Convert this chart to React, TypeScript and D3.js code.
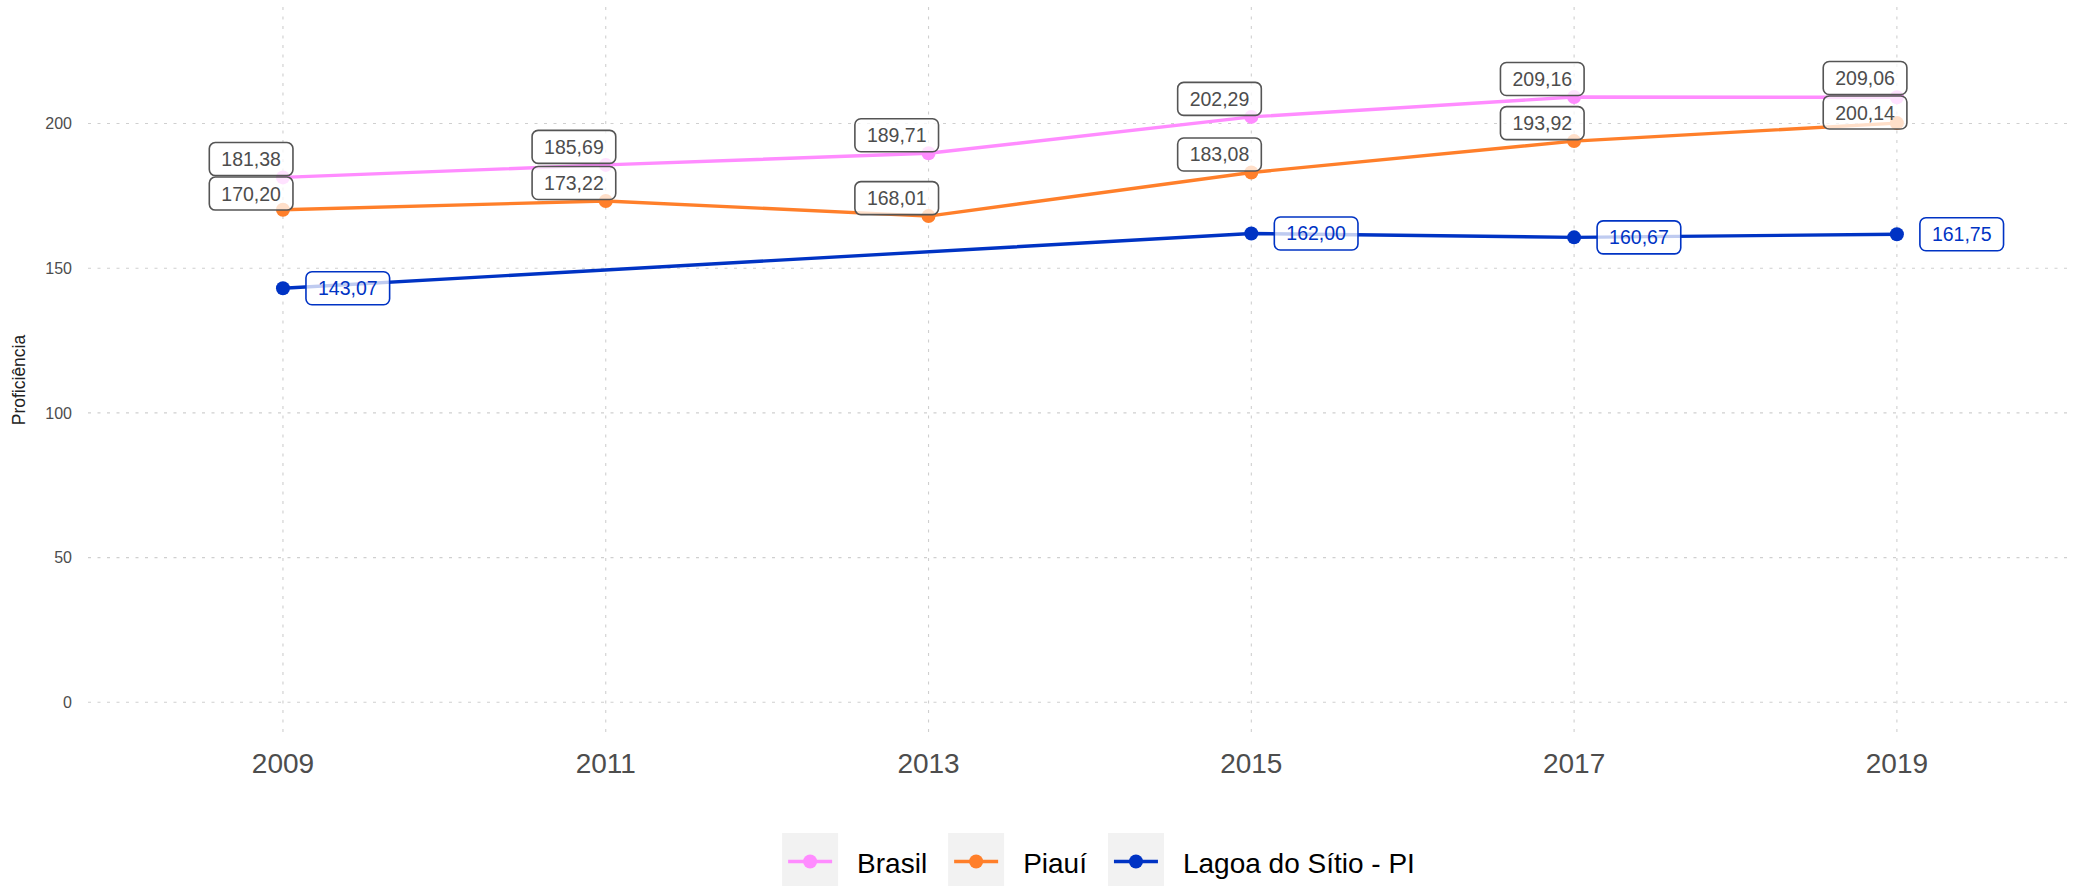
import React, { useEffect, useRef } from 'react';
import * as d3 from 'd3';

// dados
const anos = [2009, 2011, 2013, 2015, 2017, 2019];
const brasil = [181.38, 185.69, 189.71, 202.29, 209.16, 209.06];
const piaui = [170.20, 173.22, 168.01, 183.08, 193.92, 200.14];
const lagoaAnos = [2009, 2015, 2017, 2019];
const lagoa = [143.07, 162.00, 160.67, 161.75];
const yTicks = [0, 50, 100, 150, 200];
const series = ['Brasil', 'Piauí', 'Lagoa do Sítio - PI'];
const cores = ['#FF8CFF', '#FF7F2A', '#0033C4'];

const W = 2080;
const H = 886;
const FONT = '"Liberation Sans", Arial, Helvetica, sans-serif';

const fmt = (v: number) => d3.format('.2f')(v).replace('.', ',');

const App = () => {
  const ref = useRef<SVGSVGElement>(null);

  useEffect(() => {
    const svg = d3.select(ref.current);
    svg.selectAll('*').remove();

    const margin = { top: 7, right: 8, bottom: 151, left: 88 };
    const x = d3.scaleLinear().domain([2007.792, 2020.085]).range([margin.left, W - margin.right]);
    const y = d3.scaleLinear().domain([-11.3, 240.26]).range([H - margin.bottom, margin.top]);

    // grade pontilhada
    const grid = svg.append('g');
    grid.selectAll('line.h').data(yTicks).enter().append('line')
      .attr('x1', margin.left).attr('x2', W - margin.right)
      .attr('y1', d => y(d)).attr('y2', d => y(d))
      .attr('stroke', '#cfcfcf').attr('stroke-width', 1.1).attr('stroke-dasharray', '3,6.5');
    grid.selectAll('line.v').data(anos).enter().append('line')
      .attr('x1', d => x(d)).attr('x2', d => x(d))
      .attr('y1', margin.top).attr('y2', H - margin.bottom)
      .attr('stroke', '#cfcfcf').attr('stroke-width', 1.1).attr('stroke-dasharray', '3,6.5');

    // eixos
    svg.append('g').selectAll('text').data(yTicks).enter().append('text')
      .attr('x', 72).attr('y', d => y(d)).attr('dy', '0.36em')
      .attr('text-anchor', 'end').attr('font-family', FONT).attr('font-size', 16)
      .attr('fill', '#4d4d4d').text(d => d);
    svg.append('g').selectAll('text').data(anos).enter().append('text')
      .attr('x', d => x(d)).attr('y', 773)
      .attr('text-anchor', 'middle').attr('font-family', FONT).attr('font-size', 28)
      .attr('fill', '#4d4d4d').text(d => d);
    svg.append('text')
      .attr('transform', `translate(25,${380}) rotate(-90)`)
      .attr('text-anchor', 'middle').attr('font-family', FONT).attr('font-size', 17.5)
      .attr('fill', '#222').text('Proficiência');

    const dados = [
      anos.map((a, i) => ({ ano: a, v: brasil[i] })),
      anos.map((a, i) => ({ ano: a, v: piaui[i] })),
      lagoaAnos.map((a, i) => ({ ano: a, v: lagoa[i] })),
    ];

    const line = d3.line<{ ano: number; v: number }>().x(d => x(d.ano)).y(d => y(d.v));

    dados.forEach((s, k) => {
      svg.append('path').datum(s).attr('d', line)
        .attr('fill', 'none').attr('stroke', cores[k]).attr('stroke-width', 3.4);
    });
    dados.forEach((s, k) => {
      svg.append('g').selectAll('circle').data(s).enter().append('circle')
        .attr('cx', d => x(d.ano)).attr('cy', d => y(d.v)).attr('r', 7)
        .attr('fill', cores[k]);
    });

    // rótulos
    const LH = 33;
    const labels = svg.append('g');
    const addLabel = (cx: number, top: number, txt: string, cor: string, texto: string, anchorLeft: boolean) => {
      const g = labels.append('g');
      const t = g.append('text').attr('font-family', FONT).attr('font-size', 19.5)
        .attr('fill', texto).text(txt);
      const tw = (t.node() as SVGTextElement).getComputedTextLength();
      const bw = tw + 24;
      const left = anchorLeft ? cx : cx - bw;
      g.insert('rect', 'text')
        .attr('x', left).attr('y', top).attr('width', bw).attr('height', LH)
        .attr('rx', 6).attr('ry', 6)
        .attr('fill', 'white').attr('fill-opacity', 0.75)
        .attr('stroke', cor).attr('stroke-width', 1.6);
      t.attr('x', left + bw / 2).attr('y', top + LH / 2).attr('dy', '0.36em').attr('text-anchor', 'middle');
    };

    anos.forEach((a, i) => {
      const boxes = [brasil[i], piaui[i]].map(v => ({ v, top: y(v) - 1.5 - LH }))
        .sort((p, q) => p.top - q.top);
      for (let j = 1; j < boxes.length; j++) {
        const o = boxes[j - 1].top + LH + 1.5 - boxes[j].top;
        if (o > 0) {
          boxes[j - 1].top -= o * 0.15;
          boxes[j].top += o * 0.85;
        }
      }
      boxes.forEach(b => addLabel(x(a) + 10, b.top, fmt(b.v), '#555555', '#4d4d4d', false));
    });
    lagoaAnos.forEach((a, i) => {
      addLabel(x(a) + 23, y(lagoa[i]) - LH / 2, fmt(lagoa[i]), cores[2], cores[2], true);
    });

    // legenda
    const leg = svg.append('g');
    let cx = 0;
    const items: d3.Selection<SVGGElement, unknown, null, undefined>[] = [];
    series.forEach((nome, k) => {
      const g = leg.append('g').attr('transform', `translate(${cx},0)`);
      g.append('rect').attr('x', 0).attr('y', 833).attr('width', 56).attr('height', 53).attr('fill', '#f2f2f2');
      g.append('line').attr('x1', 6).attr('x2', 50).attr('y1', 861.5).attr('y2', 861.5)
        .attr('stroke', cores[k]).attr('stroke-width', 3.4);
      g.append('circle').attr('cx', 28).attr('cy', 861.5).attr('r', 7).attr('fill', cores[k]);
      const t = g.append('text').attr('x', 75).attr('y', 873)
        .attr('font-family', FONT).attr('font-size', 28).attr('fill', '#000').text(nome);
      const tw = (t.node() as SVGTextElement).getComputedTextLength();
      items.push(g);
      cx += 75 + tw + 21;
    });
    const total = cx - 21;
    leg.attr('transform', `translate(${1098.5 - total / 2},0)`);
  }, []);

  return (
    <svg ref={ref} width={W} height={H}
      style={{ position: 'absolute', left: 0, top: 0, background: 'white' }} />
  );
};

export default App;
